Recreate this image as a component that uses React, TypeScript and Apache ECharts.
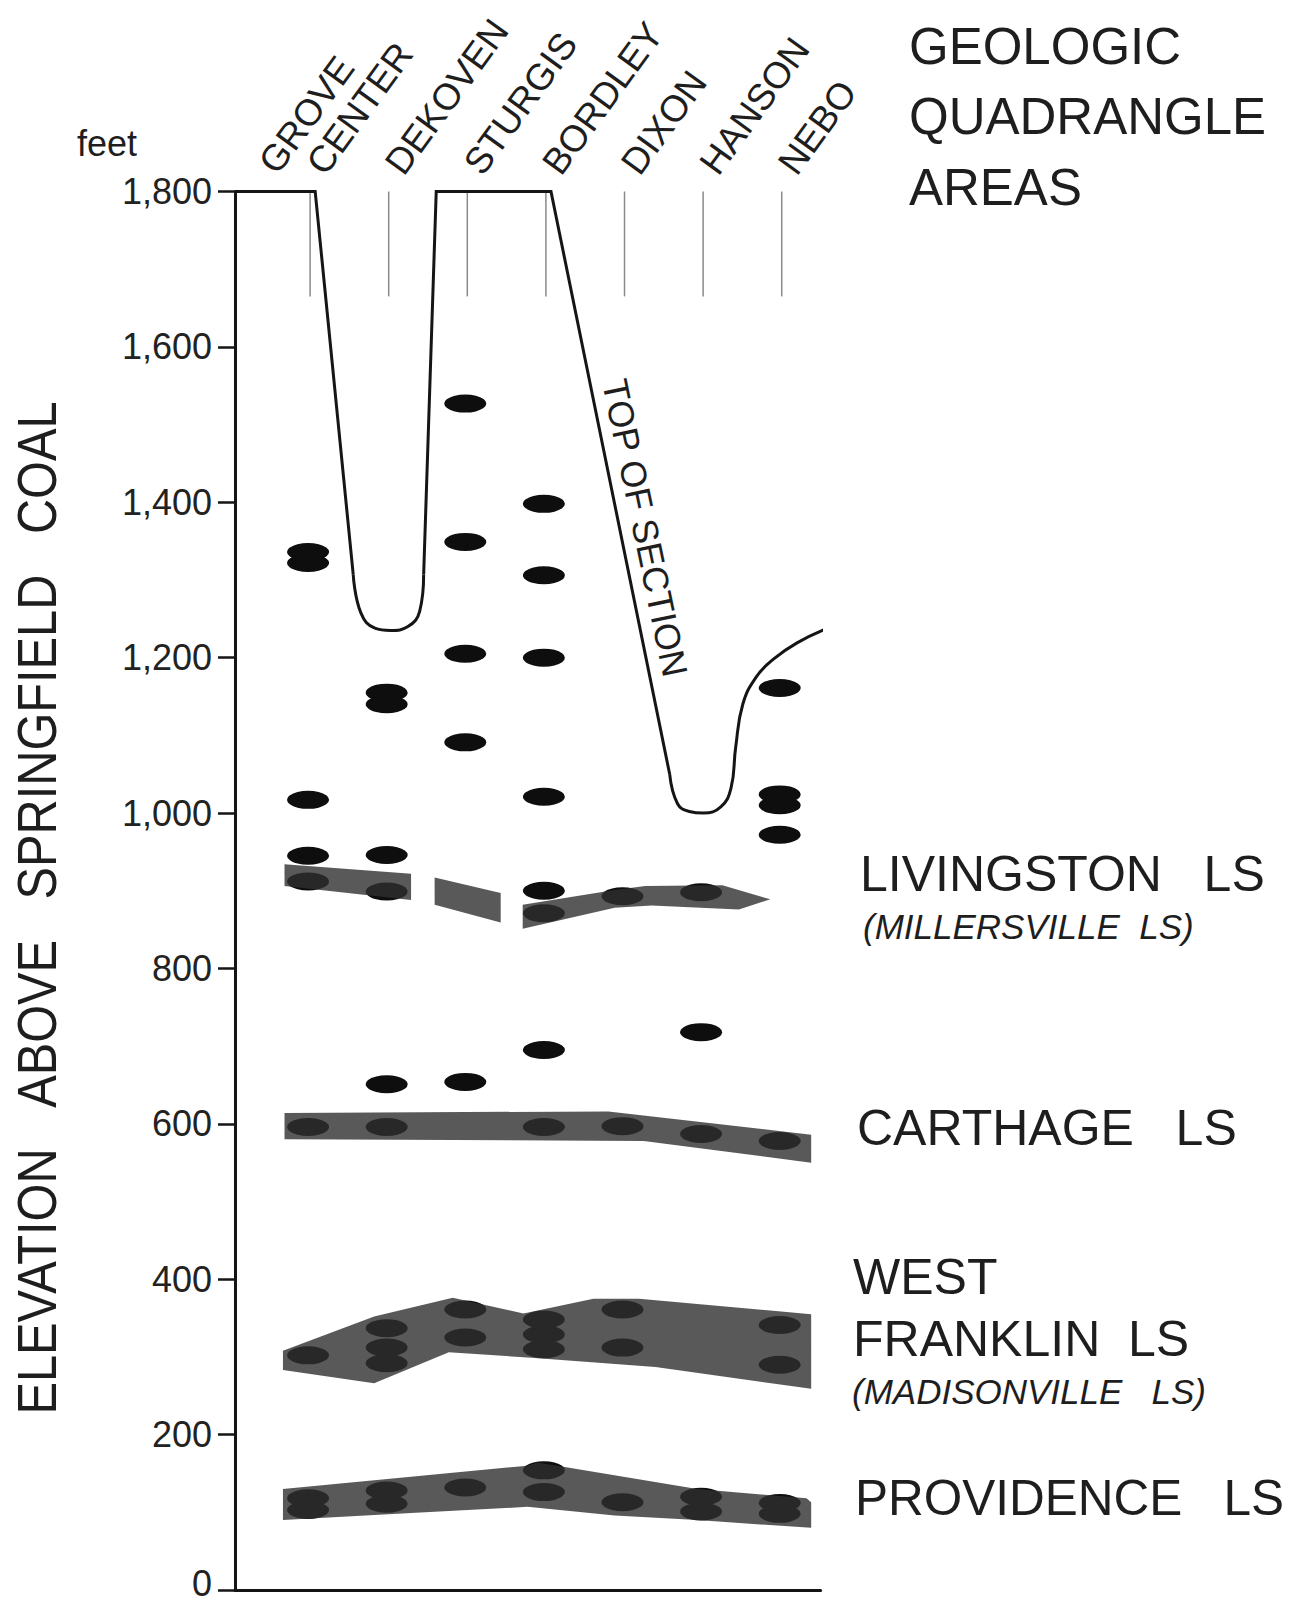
import React, { useEffect, useRef } from "react";
import * as echarts from "echarts";

// ---------- data (feet above the Springfield Coal) ----------
const quadrangles = ["GROVE\nCENTER", "DEKOVEN", "STURGIS", "BORDLEY", "DIXON", "HANSON", "NEBO"];
const quadranglePositions = [1, 2, 3, 4, 5, 6, 7];

const yMin = 0;
const yMax = 1800;
const yInterval = 200;

// limestone marker beds seen in each quadrangle
const groveCenterBeds = [1336, 1322, 1017, 945, 912, 596, 302, 118, 103];
const dekovenBeds = [1155, 1140, 946, 899, 651, 596, 337, 312, 292, 128, 111];
const sturgisBeds = [1527, 1349, 1205, 1091, 654, 361, 325, 132];
const bordleyBeds = [1398, 1306, 1200, 1021, 900, 871, 695, 596, 348, 329, 310, 154, 126];
const dixonBeds = [893, 597, 361, 312, 113];
const hansonBeds = [898, 718, 587, 120, 101];
const neboBeds = [1161, 1024, 1010, 972, 578, 341, 290, 112, 98];
const bedsByQuadrangle = [groveCenterBeds, dekovenBeds, sturgisBeds, bordleyBeds, dixonBeds, hansonBeds, neboBeds];

// correlated limestone units (outline points: [position, elevation])
const livingstonWest = [[0.70, 934], [2.31, 922], [2.31, 888], [0.70, 906]];
const livingstonSturgis = [[2.61, 917], [3.45, 897], [3.45, 859], [2.61, 882]];
const livingstonEast = [[3.73, 882], [4.90, 901], [5.29, 906], [6.27, 907], [6.88, 889], [6.48, 876], [5.37, 881], [4.90, 878], [3.73, 851]];
const carthage = [[0.70, 614], [4.82, 616], [7.40, 586], [7.40, 550], [5.27, 578], [0.70, 580]];
const westFranklin = [[0.68, 308], [1.84, 352], [2.84, 376], [3.74, 356], [4.63, 375], [5.21, 375], [7.40, 355], [7.40, 259], [5.42, 287], [3.84, 299], [2.79, 306], [1.84, 266], [0.68, 283]];
const providence = [[0.68, 130], [3.79, 160], [3.92, 164], [5.95, 130], [7.34, 118], [7.40, 113], [7.40, 80], [5.95, 90], [4.90, 96], [3.79, 107], [2.31, 99], [0.68, 90]];
const limestoneUnits = [livingstonWest, livingstonSturgis, livingstonEast, carthage, westFranklin, providence];

// top of preserved section
const topOfSectionA = [[0.07, 1800], [1.09, 1800], [1.574, 1307]];
const topOfSectionDipA = [[1.574, 1307], [1.67, 1258], [1.85, 1238], [2.05, 1235], [2.27, 1240], [2.42, 1260], [2.47, 1307]];
const topOfSectionB = [[2.47, 1307], [2.63, 1800], [4.09, 1800], [5.60, 1050]];
const topOfSectionDipB = [[5.60, 1050], [5.70, 1012], [5.85, 1002], [6.03, 1000], [6.25, 1008], [6.38, 1032], [6.44, 1085], [6.53, 1140], [6.70, 1175], [6.92, 1198], [7.22, 1219], [7.59, 1237]];

// quadrangle marker lines at the top
const markerTop = 1800;
const markerBottom = 1665;

// ---------- styling ----------
const FONT = "'Liberation Sans', Arial, Helvetica, sans-serif";
const INK = "#151515";

export default function App() {
  const ref = useRef<HTMLDivElement>(null);

  useEffect(() => {
    const chart = echarts.init(ref.current as HTMLDivElement, undefined, { renderer: "svg" });

    const bedPoints: number[][] = [];
    bedsByQuadrangle.forEach((arr, i) => arr.forEach((v) => bedPoints.push([quadranglePositions[i], v])));

    const lineCommon = {
      type: "line",
      showSymbol: false,
      symbol: "none",
      clip: false,
      z: 5,
      lineStyle: { color: INK, width: 3, join: "miter" },
    };

    const option: any = {
      animation: false,
      backgroundColor: "#ffffff",
      grid: { left: 235, right: 469.4, top: 191.5, bottom: 15, containLabel: false },
      xAxis: [
        {
          type: "value",
          min: 0.07,
          max: 7.52,
          axisLine: { show: true, onZero: false, lineStyle: { color: INK, width: 3 } },
          axisTick: { show: false },
          axisLabel: { show: false },
          splitLine: { show: false },
        },
      ],
      yAxis: [
        {
          type: "value",
          min: yMin,
          max: yMax,
          interval: yInterval,
          axisLine: { show: true, onZero: false, lineStyle: { color: INK, width: 3 } },
          axisTick: { show: true, length: 17, lineStyle: { color: INK, width: 2.5 } },
          axisLabel: {
            margin: 23,
            fontSize: 36,
            color: "#222",
            fontFamily: FONT,
            formatter: (v: number) => (v === 0 ? "{z|0}" : v.toLocaleString("en-US")),
            rich: {
              z: { fontSize: 36, color: "#222", fontFamily: FONT, padding: [0, 0, 14, 0] },
            },
          },
          splitLine: { show: false },
        },
      ],
      series: [
        {
          name: "Quadrangle markers",
          type: "custom",
          z: 1,
          data: quadranglePositions.map((p) => [p, markerTop, markerBottom]),
          renderItem: (params: any, api: any) => {
            const a = api.coord([api.value(0), api.value(1)]);
            const b = api.coord([api.value(0), api.value(2)]);
            return {
              type: "line",
              shape: { x1: a[0] + 2, y1: a[1], x2: b[0] + 2, y2: b[1] },
              style: { stroke: "#8a8a8a", lineWidth: 1.5 },
            };
          },
        },
        {
          name: "Limestone beds",
          type: "scatter",
          z: 2,
          symbol: "circle",
          symbolSize: [42, 18],
          itemStyle: { color: "#0e0e0e", opacity: 1 },
          data: bedPoints,
        },
        {
          name: "Correlated limestones",
          type: "custom",
          z: 3,
          data: limestoneUnits.map((u, i) => [u[0][0], u[0][1], i]),
          renderItem: (params: any, api: any) => {
            const unit = limestoneUnits[api.value(2) as number];
            const pts = unit.map((p) => api.coord(p));
            return {
              type: "polygon",
              shape: { points: pts },
              style: { fill: "rgba(48,48,48,0.8)" },
            };
          },
        },
        { ...lineCommon, name: "Top of section 1", data: topOfSectionA, smooth: false },
        { ...lineCommon, name: "Top of section 2", data: topOfSectionDipA, smooth: 0.45 },
        { ...lineCommon, name: "Top of section 3", data: topOfSectionB, smooth: false },
        { ...lineCommon, name: "Top of section 4", data: topOfSectionDipB, smooth: 0.45 },
      ],
    };

    chart.setOption(option);

    const px = (v: number) => chart.convertToPixel({ xAxisIndex: 0 }, v) as number;
    const deg = Math.PI / 180;
    const txt = (text: string, x: number, y: number, fontSize: number, extra: any = {}, styleExtra: any = {}) => ({
      type: "text",
      x,
      y,
      z: 10,
      ...extra,
      style: {
        text,
        fontSize,
        fontFamily: FONT,
        fill: "#1e1e1e",
        align: "left",
        verticalAlign: "middle",
        ...styleExtra,
      },
    });

    const elements: any[] = [];

    // quadrangle names, rotated above their marker lines
    quadrangles.forEach((name, i) => {
      const lines = name.split("\n");
      const ax = px(quadranglePositions[i]) + 7;
      const ay = 170;
      lines.forEach((ln, k) => {
        const back = lines.length - 1 - k;
        elements.push(txt(ln, ax - 47.7 * back, ay - 1 * back, 37, { rotation: 54 * deg }));
      });
    });

    // axis titles
    elements.push(txt("feet", 77, 143, 36));
    elements.push(
      txt("ELEVATION \u00a0\u00a0ABOVE \u00a0\u00a0SPRINGFIELD \u00a0\u00a0COAL", 36, 908, 56, { rotation: 90 * deg, scaleX: 0.87 }, { align: "center" })
    );

    // legend block top right
    elements.push(txt("GEOLOGIC", 909, 46.5, 51));
    elements.push(txt("QUADRANGLE", 909, 116.5, 51));
    elements.push(txt("AREAS", 909, 187, 51));

    // curve label
    elements.push(txt("TOP OF SECTION", 645, 528, 36, { rotation: -78.2 * deg }, { align: "center" }));

    // unit names
    elements.push(txt("LIVINGSTON \u00a0\u00a0LS", 860, 874, 50));
    elements.push(txt("(MILLERSVILLE \u00a0LS)", 863, 926, 35, {}, { fontStyle: "italic" }));
    elements.push(txt("CARTHAGE \u00a0\u00a0LS", 857, 1128, 50));
    elements.push(txt("WEST", 853, 1277, 50));
    elements.push(txt("FRANKLIN \u00a0LS", 853, 1339, 50));
    elements.push(txt("(MADISONVILLE \u00a0\u00a0LS)", 852, 1391, 35, {}, { fontStyle: "italic" }));
    elements.push(txt("PROVIDENCE \u00a0\u00a0LS", 855, 1497.5, 49.5));

    chart.setOption({ graphic: { elements } });

    return () => chart.dispose();
  }, []);

  return (
    <div
      ref={ref}
      style={{ position: "fixed", left: 0, top: 0, width: 1290, height: 1605, background: "#ffffff" }}
    />
  );
}
